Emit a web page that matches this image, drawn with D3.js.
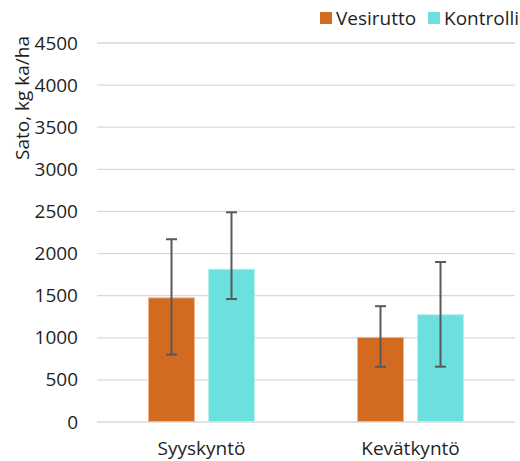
<!DOCTYPE html>
<html><head><meta charset="utf-8">
<script src="https://cdn.jsdelivr.net/npm/d3@7"></script>
<style>body{margin:0;background:#fff}svg{display:block}text{font-family:"Open Sans",sans-serif;fill:#1f1f1f}</style>
</head><body>
<svg id="c" width="520" height="461"></svg>
<script>
const categories = ["Syyskyntö", "Kevätkyntö"];
const seriesNames = ["Vesirutto", "Kontrolli"];
const vesirutto = [1480, 1010];
const kontrolli = [1820, 1280];
const vesiruttoLow = [800, 655];
const vesiruttoHigh = [2170, 1375];
const kontrolliLow = [1460, 657];
const kontrolliHigh = [2490, 1900];
const yTicks = [0, 500, 1000, 1500, 2000, 2500, 3000, 3500, 4000, 4500];
const colors = ["#D26B20", "#6CE0DF"];
const strokes = ["#F2B48A", "#B5F0EF"];

const series = [
  {name: seriesNames[0], values: vesirutto, low: vesiruttoLow, high: vesiruttoHigh},
  {name: seriesNames[1], values: kontrolli, low: kontrolliLow, high: kontrolliHigh}
];

const svg = d3.select("#c");
const x = d3.scaleBand().domain(categories).range([97, 515]).padding(0);
const xs = d3.scaleBand().domain(seriesNames).range([-53.5, 53.5]).paddingInner(13/60).paddingOuter(0);
const y = d3.scaleLinear().domain([0, 4500]).range([422, 43]);

// grid
svg.append("g").selectAll("line").data(yTicks).join("line")
  .attr("x1", 97).attr("x2", 515)
  .attr("y1", d => y(d)).attr("y2", d => y(d))
  .attr("stroke", "#D9D9D9").attr("stroke-width", 1.3);

// y axis labels
const yAxis = d3.axisLeft(y).tickValues(yTicks).tickSize(0).tickPadding(0).tickFormat(d3.format("d"));
const gy = svg.append("g").attr("transform", "translate(78,0)").call(yAxis);
gy.select(".domain").remove();
gy.selectAll("text").style("font-size", "19px").attr("fill", "#1f1f1f").style("font-family", '"Open Sans",sans-serif');

// x axis labels
const xAxis = d3.axisBottom(x).tickSize(0).tickPadding(0);
const gx = svg.append("g").attr("transform", "translate(0,441.5)").call(xAxis);
gx.select(".domain").remove();
gx.selectAll("text").style("font-size", "19px").attr("fill", "#1f1f1f").style("font-family", '"Open Sans",sans-serif');

// bars
series.forEach((s, si) => {
  const g = svg.append("g");
  g.selectAll("rect").data(categories).join("rect")
    .attr("x", (c) => x(c) + x.bandwidth()/2 + xs(s.name) + 0.5)
    .attr("width", xs.bandwidth() - 1)
    .attr("y", (c, i) => y(s.values[i]) + 0.5)
    .attr("height", (c, i) => y(0) - y(s.values[i]) - 1)
    .attr("fill", colors[si]).attr("stroke", strokes[si]).attr("stroke-width", 1);
});

// error bars
series.forEach((s, si) => {
  const g = svg.append("g").attr("stroke", "#595959").attr("stroke-width", 2);
  categories.forEach((c, i) => {
    const cx = x(c) + x.bandwidth()/2 + xs(s.name) + xs.bandwidth()/2;
    g.append("line").attr("x1", cx).attr("x2", cx).attr("y1", y(s.low[i])).attr("y2", y(s.high[i]));
    g.append("line").attr("x1", cx - 5.5).attr("x2", cx + 5.5).attr("y1", y(s.low[i])).attr("y2", y(s.low[i]));
    g.append("line").attr("x1", cx - 5.5).attr("x2", cx + 5.5).attr("y1", y(s.high[i])).attr("y2", y(s.high[i]));
  });
});

// legend
const legX = [320, 428];
series.forEach((s, si) => {
  svg.append("rect").attr("x", legX[si]).attr("y", 12).attr("width", 12).attr("height", 12).attr("fill", colors[si]);
  svg.append("text").attr("x", legX[si] + 16).attr("y", 25).style("font-size", "19px").text(s.name);
});

// y title
svg.append("text").attr("transform", "translate(29,98) rotate(-90)").attr("text-anchor", "middle")
  .style("font-size", "19px").text("Sato, kg ka/ha");
</script>
</body></html>
